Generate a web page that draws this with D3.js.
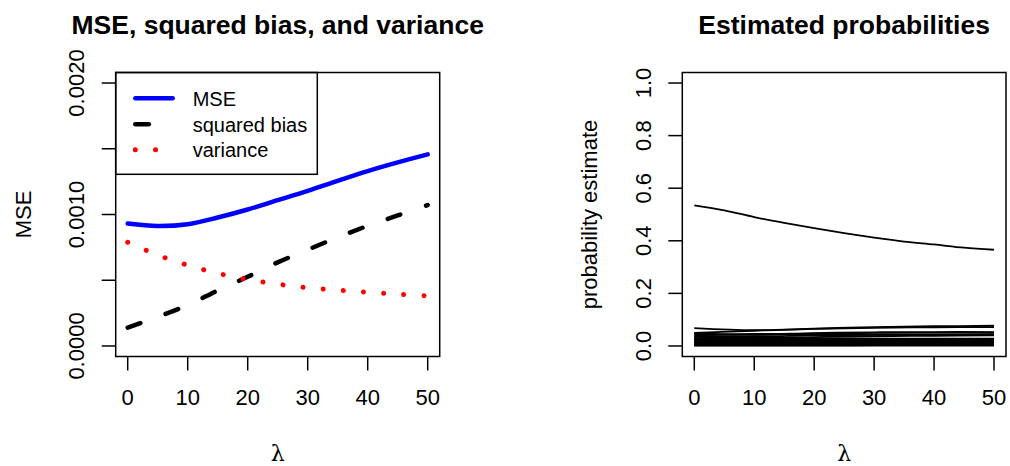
<!DOCTYPE html>
<html>
<head>
<meta charset="utf-8">
<script src="https://cdn.jsdelivr.net/npm/d3@7"></script>
<style>
  body { margin: 0; background: #fff; }
  svg { font-family: 'Liberation Sans', Arial, sans-serif; }
  .tick-label { font-size: 22px; }
  .axis-title { font-size: 22px; }
  .title { font-size: 26.5px; font-weight: bold; }
  .legend-text { font-size: 20px; }
  .lambda { font-family: 'DejaVu Serif', 'Liberation Serif', serif; font-size: 22px; }
</style>
</head>
<body>
<svg width="1010" height="466"></svg>
<script>
// lambda grid used for the left panel + main right curve
const lambdas = [0, 5, 10, 15, 20, 25, 30, 35, 40, 45, 50];
const mseValues = [0.000931, 0.000912, 0.000926, 0.000977, 0.001038, 0.001109, 0.001180, 0.001256, 0.001330, 0.001396, 0.001457];
const biasValues = [0.000140, 0.000222, 0.000311, 0.000422, 0.000526, 0.000636, 0.000732, 0.000826, 0.000914, 0.000993, 0.001072];
const varValues = [0.000789, 0.000692, 0.000614, 0.000553, 0.000505, 0.000470, 0.000443, 0.000425, 0.000409, 0.000394, 0.000381];

const legendLabels = ['MSE', 'squared bias', 'variance'];

const xTicks = [0, 10, 20, 30, 40, 50];
const leftTicksY = [0, 0.0005, 0.0010, 0.0015, 0.0020];
const leftTickLabelsY = ['0.0000', '', '0.0010', '', '0.0020'];

const rightTicksY = [0, 0.2, 0.4, 0.6, 0.8, 1.0];
const rightTickLabelsY = ['0.0', '0.2', '0.4', '0.6', '0.8', '1.0'];

// right panel: one big curve plus a bundle of small ones
const bigProb = [0.535, 0.516, 0.490, 0.468, 0.448, 0.429, 0.412, 0.397, 0.386, 0.374, 0.366];
const lambdasCoarse = [0, 10, 20, 30, 40, 50];
const smallProbs = [
  [0.068, 0.060, 0.066, 0.072, 0.075, 0.077],
  [0.050, 0.058, 0.065, 0.069, 0.071, 0.072],
  [0.048, 0.044, 0.049, 0.052, 0.053, 0.053],
  [0.045, 0.042, 0.047, 0.050, 0.051, 0.051],
  [0.040, 0.046, 0.044, 0.043, 0.044, 0.045],
  [0.038, 0.036, 0.040, 0.042, 0.042, 0.042],
  [0.035, 0.030, 0.034, 0.037, 0.039, 0.040],
  [0.030, 0.022, 0.020, 0.021, 0.023, 0.025],
  [0.028, 0.031, 0.029, 0.028, 0.028, 0.028],
  [0.026, 0.027, 0.027, 0.027, 0.027, 0.027],
  [0.025, 0.028, 0.027, 0.026, 0.026, 0.026],
  [0.022, 0.024, 0.024, 0.024, 0.024, 0.024],
  [0.020, 0.014, 0.016, 0.019, 0.020, 0.021],
  [0.018, 0.020, 0.021, 0.021, 0.022, 0.022],
  [0.015, 0.018, 0.020, 0.022, 0.022, 0.023],
  [0.014, 0.016, 0.017, 0.018, 0.018, 0.018],
  [0.012, 0.010, 0.009, 0.009, 0.009, 0.009],
  [0.010, 0.008, 0.010, 0.012, 0.013, 0.013],
  [0.008, 0.012, 0.014, 0.015, 0.016, 0.016],
  [0.006, 0.007, 0.007, 0.008, 0.008, 0.008],
  [0.005, 0.004, 0.005, 0.006, 0.007, 0.007],
  [0.003, 0.006, 0.008, 0.009, 0.010, 0.010],
  [0.002, 0.002, 0.002, 0.003, 0.003, 0.003],
  [0.001, 0.001, 0.001, 0.001, 0.001, 0.001]
];

const svg = d3.select('svg');

const boxTop = 72.5, boxBottom = 356.5;
const tickLen = 14;

// draws the frame, ticks, tick labels and titles of one R-style panel
const drawFrame = (g, xScale, yScale, yTicks, yLabels, titleText, yTitle) => {
  const [x0, x1] = xScale.range();
  g.append('rect')
    .attr('x', x0).attr('y', boxTop)
    .attr('width', x1 - x0).attr('height', boxBottom - boxTop)
    .attr('fill', 'none').attr('stroke', 'black').attr('stroke-width', 1.5);

  // x ticks hang below the box
  xTicks.forEach(t => {
    g.append('line')
      .attr('x1', xScale(t)).attr('x2', xScale(t))
      .attr('y1', boxBottom).attr('y2', boxBottom + tickLen)
      .attr('stroke', 'black').attr('stroke-width', 1.5);
    g.append('text')
      .attr('class', 'tick-label')
      .attr('x', xScale(t)).attr('y', boxBottom + 48)
      .attr('text-anchor', 'middle')
      .text(t);
  });

  // y ticks, labels turned sideways like R's default las=0
  yTicks.forEach((t, i) => {
    g.append('line')
      .attr('x1', x0 - tickLen).attr('x2', x0)
      .attr('y1', yScale(t)).attr('y2', yScale(t))
      .attr('stroke', 'black').attr('stroke-width', 1.5);
    if (yLabels[i]) {
      g.append('text')
        .attr('class', 'tick-label')
        .attr('transform', `translate(${x0 - 31.5},${yScale(t)}) rotate(-90)`)
        .attr('text-anchor', 'middle')
        .text(yLabels[i]);
    }
  });

  const cx = (x0 + x1) / 2;
  g.append('text')
    .attr('class', 'title')
    .attr('x', cx).attr('y', 33.5)
    .attr('text-anchor', 'middle')
    .text(titleText);

  g.append('text')
    .attr('class', 'axis-title')
    .attr('transform', `translate(${x0 - 85},${(boxTop + boxBottom) / 2}) rotate(-90)`)
    .attr('text-anchor', 'middle')
    .text(yTitle);

  g.append('text')
    .attr('class', 'lambda')
    .attr('x', cx).attr('y', 461)
    .attr('text-anchor', 'middle')
    .text('λ');
};

// ---------- left panel ----------
const xLeft = d3.scaleLinear().domain([-2, 52]).range([115.7, 439.7]);
const yLeft = d3.scaleLinear().domain([-0.00008, 0.00208]).range([boxBottom, boxTop]);
const gLeft = svg.append('g');

const lineLeft = vals => d3.line()
  .x((d, i) => xLeft(lambdas[i]))
  .y(d => yLeft(d))
  .curve(d3.curveCatmullRom)(vals);

const series = [
  { vals: mseValues, color: 'blue', dash: null, width: 4.5 },
  { vals: biasValues, color: 'black', dash: '13.5 26.8', width: 4.5 },
  { vals: varValues, color: 'red', dash: '0.01 20.2', width: 5 }
];

series.forEach(s => {
  gLeft.append('path')
    .attr('d', lineLeft(s.vals))
    .attr('fill', 'none')
    .attr('stroke', s.color)
    .attr('stroke-width', s.width)
    .attr('stroke-linecap', 'round')
    .attr('stroke-dasharray', s.dash);
});

// legend
const legend = gLeft.append('g');
legend.append('rect')
  .attr('x', 115.7).attr('y', boxTop)
  .attr('width', 317.3 - 115.7).attr('height', 174.3 - boxTop)
  .attr('fill', 'white').attr('stroke', 'black').attr('stroke-width', 1.5);
const rowY = [98.3, 124.3, 149.8];
series.forEach((s, i) => {
  legend.append('line')
    .attr('x1', 135.3).attr('x2', 172.7)
    .attr('y1', rowY[i]).attr('y2', rowY[i])
    .attr('stroke', s.color)
    .attr('stroke-width', s.width)
    .attr('stroke-linecap', 'round')
    .attr('stroke-dasharray', s.dash);
  legend.append('text')
    .attr('class', 'legend-text')
    .attr('x', 192.7).attr('y', rowY[i] + 7.2)
    .text(legendLabels[i]);
});

drawFrame(gLeft, xLeft, yLeft, leftTicksY, leftTickLabelsY,
  'MSE, squared bias, and variance', 'MSE');

// ---------- right panel ----------
const xRight = d3.scaleLinear().domain([-2, 52]).range([682.3, 1006]);
const yRight = d3.scaleLinear().domain([-0.04, 1.04]).range([boxBottom, boxTop]);
const gRight = svg.append('g');

const lineRight = (xs, vals) => d3.line()
  .x((d, i) => xRight(xs[i]))
  .y(d => yRight(d))
  .curve(d3.curveCatmullRom)(vals);

smallProbs.forEach(vals => {
  gRight.append('path')
    .attr('d', lineRight(lambdasCoarse, vals))
    .attr('fill', 'none')
    .attr('stroke', 'black')
    .attr('stroke-width', 1.8);
});
gRight.append('path')
  .attr('d', lineRight(lambdas, bigProb))
  .attr('fill', 'none')
  .attr('stroke', 'black')
  .attr('stroke-width', 1.8);

drawFrame(gRight, xRight, yRight, rightTicksY, rightTickLabelsY,
  'Estimated probabilities', 'probability estimate');
</script>
</body>
</html>
